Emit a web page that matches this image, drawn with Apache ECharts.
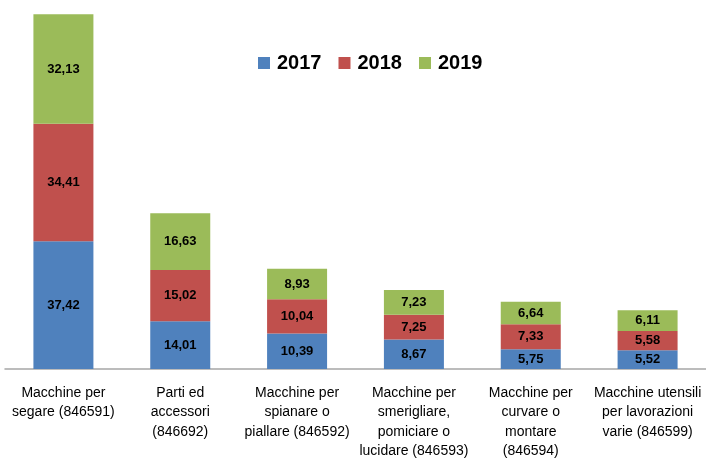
<!DOCTYPE html>
<html><head><meta charset="utf-8">
<script src="https://cdn.jsdelivr.net/npm/echarts@6/dist/echarts.min.js"></script>
<style>html,body{margin:0;padding:0;background:#fff}#c{width:706px;height:461px}</style>
</head><body><div id="c"></div>
<script>
var categories = [
  "Macchine per\nsegare (846591)",
  "Parti ed\naccessori\n(846692)",
  "Macchine per\nspianare o\npiallare (846592)",
  "Macchine per\nsmerigliare,\npomiciare o\nlucidare (846593)",
  "Macchine per\ncurvare o\nmontare\n(846594)",
  "Macchine utensili\nper lavorazioni\nvarie (846599)"
];
var years = ["2017", "2018", "2019"];
var v2017 = [37.42, 14.01, 10.39, 8.67, 5.75, 5.52];
var v2018 = [34.41, 15.02, 10.04, 7.25, 7.33, 5.58];
var v2019 = [32.13, 16.63, 8.93, 7.23, 6.64, 6.11];
var colors = ["#4F81BD", "#C0504D", "#9BBB59"];

var chart = echarts.init(document.getElementById('c'), null, {renderer: 'canvas'});
function mk(name, data, color) {
  return {
    name: name, type: 'bar', stack: 'total', data: data, barWidth: 60,
    itemStyle: {color: color},
    label: {
      show: true, position: 'inside', color: '#000', fontWeight: 'bold',
      fontFamily: 'Liberation Sans', fontSize: 13,
      formatter: function (p) { return p.value.toFixed(2).replace('.', ','); }
    }
  };
}
chart.setOption({
  animation: false,
  color: colors,
  legend: {
    top: 48, left: 253, itemWidth: 12, itemHeight: 12, itemGap: 17,
    icon: 'rect',
    textStyle: {fontFamily: 'Liberation Sans', fontWeight: 'bold', fontSize: 20, color: '#000', padding: [0, 0, 0, 2]},
    data: years
  },
  grid: {left: 5, right: -4, top: 14, bottom: 91, containLabel: false},
  xAxis: {
    type: 'category', data: categories,
    axisLine: {lineStyle: {color: '#a6a6a6', width: 1.5}},
    axisTick: {show: false},
    axisLabel: {
      interval: 0, margin: 14, color: '#000', fontFamily: 'Liberation Sans',
      fontSize: 14, lineHeight: 19.5
    }
  },
  yAxis: {type: 'value', min: 0, max: 104, show: false, splitLine: {show: false}},
  series: [mk(years[0], v2017, colors[0]), mk(years[1], v2018, colors[1]), mk(years[2], v2019, colors[2])]
});
</script></body></html>
